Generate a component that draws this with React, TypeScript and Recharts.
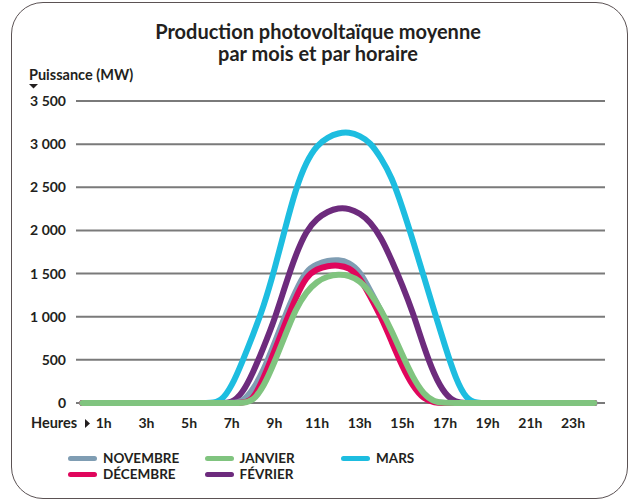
import React from 'react';
import { LineChart, Line, XAxis, YAxis, CartesianGrid } from 'recharts';

// heures (pas d'une demi-heure)
const hours = [
  0, 0.5, 1, 1.5, 2, 2.5, 3, 3.5, 4, 4.5, 5, 5.5, 6, 6.5, 7, 7.5, 8, 8.5, 9, 9.5, 10, 10.5, 11, 11.5,
  12, 12.5, 13, 13.5, 14, 14.5, 15, 15.5, 16, 16.5, 17, 17.5, 18, 18.5, 19, 19.5, 20, 20.5, 21, 21.5,
  22, 22.5, 23, 23.5, 24,
];

const mars = [
  0, 0, 0, 0, 0, 0, 0, 0, 0, 0, 0, 0, 0, 15, 190, 480, 790, 1120, 1540, 2020, 2480, 2800, 2990, 3080,
  3130, 3140, 3100, 3020, 2840, 2620, 2270, 1880, 1470, 1060, 660, 280, 40, 0, 0, 0, 0, 0, 0, 0,
  0, 0, 0, 0, 0,
];
const fevrier = [
  0, 0, 0, 0, 0, 0, 0, 0, 0, 0, 0, 0, 0, 0, 0, 110, 350, 650, 960, 1355, 1720, 2000, 2140, 2220,
  2262, 2256, 2200, 2100, 1920, 1655, 1365, 1045, 655, 320, 100, 5, 0, 0, 0, 0, 0, 0, 0, 0,
  0, 0, 0, 0, 0,
];
const novembre = [
  0, 0, 0, 0, 0, 0, 0, 0, 0, 0, 0, 0, 0, 0, 0, 10, 150, 380, 690, 1010, 1300, 1540, 1610, 1650,
  1660, 1630, 1530, 1300, 1070, 800, 510, 270, 80, 5, 0, 0, 0, 0, 0, 0, 0, 0, 0, 0,
  0, 0, 0, 0, 0,
];
const decembre = [
  0, 0, 0, 0, 0, 0, 0, 0, 0, 0, 0, 0, 0, 0, 0, 0, 30, 290, 600, 920, 1220, 1470, 1555, 1590,
  1597, 1570, 1460, 1230, 1000, 710, 420, 190, 45, 0, 0, 0, 0, 0, 0, 0, 0, 0, 0, 0,
  0, 0, 0, 0, 0,
];
const janvier = [
  0, 0, 0, 0, 0, 0, 0, 0, 0, 0, 0, 0, 0, 0, 0, 0, 20, 190, 470, 780, 1090, 1290, 1410, 1470,
  1490, 1480, 1420, 1280, 1080, 840, 555, 290, 100, 10, 0, 0, 0, 0, 0, 0, 0, 0, 0, 0,
  0, 0, 0, 0, 0,
];

const xTicks = [1, 3, 5, 7, 9, 11, 13, 15, 17, 19, 21, 23];
const yTicks = [0, 500, 1000, 1500, 2000, 2500, 3000, 3500];

// ordre de tracé (le dernier passe au-dessus)
const series = [
  { key: 'mars', name: 'MARS', color: '#1dbde0' },
  { key: 'fevrier', name: 'FÉVRIER', color: '#6d2b7d' },
  { key: 'novembre', name: 'NOVEMBRE', color: '#7f9db3' },
  { key: 'decembre', name: 'DÉCEMBRE', color: '#e0065c' },
  { key: 'janvier', name: 'JANVIER', color: '#80c47f' },
];

// ordre de la légende
const legendOrder = ['novembre', 'janvier', 'mars', 'decembre', 'fevrier'];

const data = hours.map((h, i) => ({
  h,
  mars: mars[i],
  fevrier: fevrier[i],
  novembre: novembre[i],
  decembre: decembre[i],
  janvier: janvier[i],
}));

const FONT = 'Lato, "Open Sans", sans-serif';
const TXT = '#231f20';

const fmt = (v: number) => String(v).replace(/\B(?=(\d{3})+(?!\d))/g, ' ');

const LegendBox = () => (
  <div style={{ position: 'absolute', left: 0, top: 450, width: 630, height: 34 }}>
    {legendOrder.map((k, i) => {
      const s = series.find((x) => x.key === k)!;
      const col = i < 3 ? i : i - 3;
      const row = i < 3 ? 0 : 1;
      return (
        <div
          key={k}
          style={{
            position: 'absolute',
            left: 68 + col * 136.5,
            top: row * 16,
            display: 'flex',
            alignItems: 'center',
            height: 16,
          }}
        >
          <span style={{ width: 29, height: 5, borderRadius: 3, background: s.color, display: 'inline-block' }} />
          <span style={{ marginLeft: 6, fontFamily: FONT, fontWeight: 700, fontSize: 13.5, color: TXT }}>{s.name}</span>
        </div>
      );
    })}
  </div>
);

export default function App() {
  return (
    <div style={{ position: 'absolute', left: 0, top: 0, width: 630, height: 499, background: '#fff' }}>
      <div
        style={{
          position: 'absolute',
          left: 11,
          top: 2,
          width: 615,
          height: 495,
          border: '1px solid #5b5254',
          borderRadius: 32,
        }}
      />
      <div
        style={{
          position: 'absolute',
          left: 0,
          top: 20,
          width: 636,
          textAlign: 'center',
          fontFamily: FONT,
          fontWeight: 700,
          fontSize: 20,
          lineHeight: '22px',
          color: TXT,
        }}
      >
        Production photovoltaïque moyenne
        <br />
        par mois et par horaire
      </div>
      <div
        style={{ position: 'absolute', left: 29, top: 66, fontFamily: FONT, fontWeight: 700, fontSize: 14.5, color: TXT }}
      >
        Puissance (MW)
      </div>
      <svg style={{ position: 'absolute', left: 29, top: 84 }} width={10} height={5}>
        <polygon points="0,0 9,0 4.5,4.5" fill={TXT} />
      </svg>
      <div
        style={{ position: 'absolute', left: 31, top: 414, fontFamily: FONT, fontWeight: 700, fontSize: 14.5, color: TXT }}
      >
        Heures
      </div>
      <svg style={{ position: 'absolute', left: 85, top: 419 }} width={6} height={9}>
        <polygon points="0,0 5,4.5 0,9" fill={TXT} />
      </svg>
      <div style={{ position: 'absolute', left: 0, top: 0 }}>
        <LineChart width={630} height={499} data={data} margin={{ top: 101, right: 25, bottom: 66, left: 0 }}>
          <CartesianGrid vertical={false} stroke="#7a7a7a" strokeWidth={2} />
          <XAxis
            dataKey="h"
            type="number"
            domain={[-0.3, 24.5]}
            ticks={xTicks}
            tickFormatter={(v: number) => `${v}h`}
            axisLine={false}
            tickLine={false}
            tickSize={0}
            tickMargin={15}
            height={30}
            tick={{ fill: TXT, fontFamily: FONT, fontWeight: 700, fontSize: 14 }}
          />
          <YAxis
            domain={[0, 3500]}
            ticks={yTicks}
            tickFormatter={fmt}
            axisLine={false}
            tickLine={false}
            tickSize={0}
            tickMargin={10}
            width={76}
            tick={{ fill: TXT, fontFamily: FONT, fontWeight: 700, fontSize: 14 }}
          />
          {series.map((s) => (
            <Line
              key={s.key}
              dataKey={s.key}
              name={s.name}
              type="basis"
              stroke={s.color}
              strokeWidth={6}
              strokeLinecap="round"
              dot={false}
              activeDot={false}
              isAnimationActive={false}
            />
          ))}
        </LineChart>
      </div>
      <LegendBox />
    </div>
  );
}
